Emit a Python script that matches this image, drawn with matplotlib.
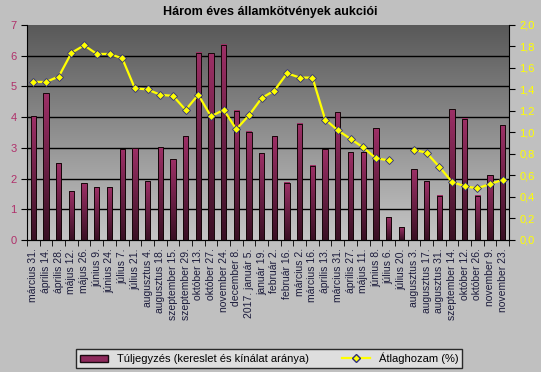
import numpy as np
import matplotlib.pyplot as plt
from matplotlib.colors import LinearSegmentedColormap
from matplotlib.lines import Line2D
from matplotlib.patches import Patch

dates = [
    "március 31.", "április 14.", "április 28.", "május 12.", "május 26.",
    "június 9.", "június 24.", "július 7.", "július 21.", "augusztus 4.",
    "augusztus 18.", "szeptember 15.", "szeptember 29.", "október 13.",
    "október 27.", "november 24.", "december 8.", "2017. január 5.",
    "január 19.", "február 2.", "február 16.", "március 2.", "március 16.",
    "április 13.", "március 31.", "április 27.", "május 11.", "június 8.",
    "július 6.", "július 20.", "augusztus 3.", "augusztus 17.",
    "augusztus 31.", "szeptember 14.", "október 12.", "október 26.",
    "november 9.", "november 23.",
]
overbid = [
    4.02, 4.77, 2.49, 1.58, 1.84, 1.71, 1.71, 2.95, 2.98, 1.91,
    3.01, 2.62, 3.37, 6.10, 6.07, 6.36, 4.21, 3.53, 2.82, 3.37,
    1.87, 3.79, 2.41, 2.95, 4.15, 2.85, 2.85, 3.63, 0.74, 0.41,
    2.30, 1.91, 1.44, 4.25, 3.95, 1.44, 2.10, 3.73,
]
avg_yield = [
    1.47, 1.47, 1.52, 1.74, 1.81, 1.73, 1.73, 1.69, 1.41, 1.40,
    1.35, 1.34, 1.21, 1.35, 1.15, 1.21, 1.03, 1.16, 1.32, 1.39,
    1.55, 1.51, 1.51, 1.12, 1.02, 0.94, 0.86, 0.76, 0.74, None,
    0.84, 0.81, 0.68, 0.54, 0.50, 0.48, 0.52, 0.56,
]

plt.rcParams["font.family"] = ["Liberation Sans Narrow", "Liberation Sans", "DejaVu Sans"]

x = np.arange(len(dates))
yld = np.array([np.nan if v is None else v for v in avg_yield])

fig = plt.figure(figsize=(5.41, 3.72), dpi=100, facecolor="#c0c0c0")
ax = fig.add_axes([0.050, 0.355, 0.891, 0.578])
ax.set_facecolor("#c0c0c0")

# grey gradient background of the plot area
grad = np.linspace(0, 1, 256).reshape(-1, 1)
ax.imshow(grad, extent=[0, 1, 0, 1], transform=ax.transAxes, aspect="auto",
          cmap=LinearSegmentedColormap.from_list("bg", ["#c6c6c6", "#585858"]),
          origin="lower", zorder=0)

for gy in range(1, 7):
    ax.axhline(gy, color="black", lw=1, zorder=1)

bars = ax.bar(x, overbid, width=0.42, color="#8e2a5c", linewidth=0, zorder=2)
# vertical gradient inside each bar, dark at the bottom
bar_cmap = LinearSegmentedColormap.from_list("bar", ["#3a1024", "#9c3066"])
for b in bars:
    ax.imshow(np.linspace(0, 1, 64).reshape(-1, 1),
              extent=[b.get_x(), b.get_x() + b.get_width(), 0, b.get_height()],
              cmap=bar_cmap, origin="lower", aspect="auto", zorder=2.5)
ax.bar(x, overbid, width=0.42, facecolor="none", edgecolor="#140608",
       linewidth=0.7, zorder=3)

ax.set_xlim(-0.5, len(dates) - 0.5)
ax.set_ylim(0, 7)
ax.set_yticks(range(0, 8))
ax.tick_params(axis="y", colors="#b0306a", labelsize=8, length=4, direction="out")
ax.tick_params(axis="y", color="black")
ax.set_xticks(x)
ax.set_xticklabels(dates, rotation=90, fontsize=7.5, color="#1c1c3c")
ax.tick_params(axis="x", length=0, pad=6)
ax.set_xticks(np.arange(-0.5, len(dates)), minor=True)
ax.tick_params(axis="x", which="minor", length=4, color="black")
for s in ["top", "right"]:
    ax.spines[s].set_visible(False)

ax2 = ax.twinx()
ax2.plot(x, yld, color="#ffff00", lw=1.6, marker="D", markersize=4,
         markerfacecolor="#ffff00", markeredgecolor="#30307a",
         markeredgewidth=0.6, zorder=5)
ax2.set_ylim(0, 2.0)
ax2.set_yticks(np.arange(0, 2.01, 0.2))
ax2.set_yticklabels([f"{v:.1f}".replace(".", ",") for v in np.arange(0, 2.01, 0.2)])
ax2.tick_params(axis="y", colors="#ffff00", labelsize=8, length=4, direction="out")
ax2.tick_params(axis="y", color="black")
ax2.spines["top"].set_visible(False)
ax2.spines["left"].set_visible(False)

fig.text(0.5, 0.968, "Három éves államkötvények aukciói", ha="center", va="center",
         fontsize=9, fontweight="bold", color="black")

handles = [
    Patch(facecolor="#8e2a5c", edgecolor="#1a0a10", label="Túljegyzés (kereslet és kínálat aránya)"),
    Line2D([0], [0], color="#ffff00", lw=1.6, marker="D", markersize=4,
           markerfacecolor="#ffff00", markeredgecolor="#30307a",
           label="Átlaghozam (%)"),
]
leg = fig.legend(handles=handles, loc="center", bbox_to_anchor=(0.498, 0.036),
                 ncol=2, fontsize=8, frameon=True, fancybox=False,
                 handlelength=2.5, columnspacing=3, borderpad=0.35)
leg.get_frame().set_edgecolor("black")
leg.get_frame().set_facecolor("#e6e6e6")
leg.get_frame().set_linewidth(1)

fig.savefig("out.png", dpi=100, facecolor=fig.get_facecolor())
